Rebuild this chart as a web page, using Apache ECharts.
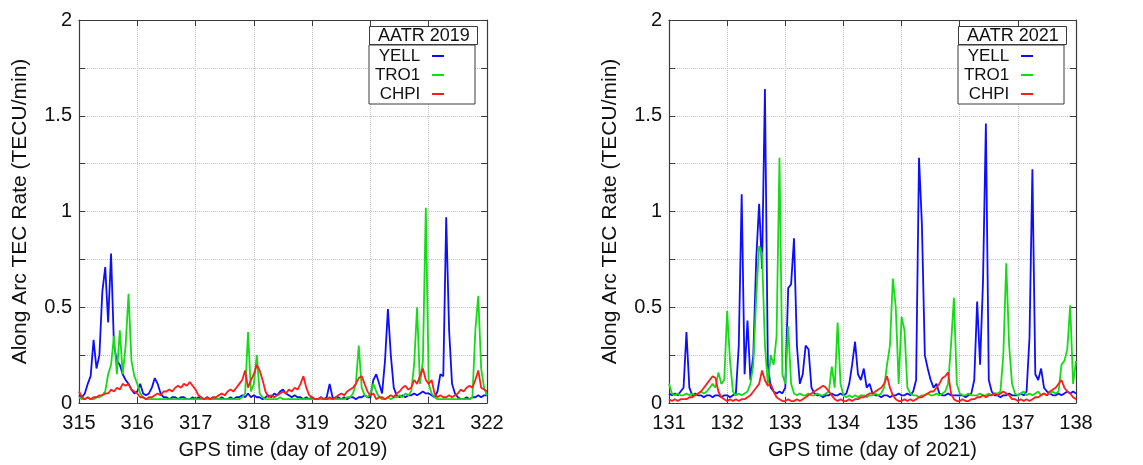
<!DOCTYPE html>
<html>
<head>
<meta charset="utf-8">
<title>AATR 2019 / 2021</title>
<script src="https://cdn.jsdelivr.net/npm/echarts@6/dist/echarts.min.js"></script>
<style>
  html, body { margin: 0; padding: 0; background: #fff; }
  #chart { width: 1143px; height: 465px; }
</style>
</head>
<body>
<div id="chart"></div>
<script>
/* AATR de tres estaciones, dos semanas (2019 y 2021) — muestras cada 0.05 días */

const STATIONS = ["YELL", "TRO1", "CHPI"];
const COLORS = ["#0d0dff", "#14dc14", "#ff1c1c"];
const STEP = 0.05;

const START_2019 = 315;
const END_2019 = 322;
const YELL_2019 = [
  0.04,0.03,0.05,0.10,0.14,0.33,0.18,0.25,0.58,0.71,0.42,0.78,0.30,0.22,0.20,0.15,0.12,0.10,0.07,0.05,
  0.06,0.10,0.05,0.04,0.05,0.08,0.13,0.10,0.05,0.03,0.03,0.02,0.03,0.03,0.02,0.03,0.03,0.02,0.02,0.03,
  0.02,0.03,0.02,0.02,0.03,0.02,0.03,0.02,0.02,0.03,0.02,0.02,0.03,0.02,0.03,0.03,0.04,0.03,0.05,0.03,
  0.04,0.03,0.03,0.02,0.03,0.04,0.03,0.05,0.04,0.06,0.07,0.05,0.04,0.03,0.04,0.03,0.03,0.02,0.03,0.02,
  0.03,0.02,0.02,0.03,0.02,0.03,0.10,0.03,0.02,0.03,0.02,0.03,0.02,0.03,0.03,0.02,0.03,0.03,0.04,0.03,
  0.03,0.12,0.15,0.10,0.05,0.22,0.49,0.25,0.08,0.04,0.03,0.04,0.03,0.04,0.04,0.05,0.04,0.05,0.06,0.05,
  0.05,0.04,0.03,0.06,0.15,0.14,0.97,0.38,0.10,0.05,0.03,0.02,0.02,0.03,0.02,0.03,0.03,0.04,0.03,0.04,
  0.04
];
const TRO1_2019 = [
  0.03,0.02,0.02,0.03,0.02,0.02,0.03,0.03,0.04,0.06,0.15,0.20,0.35,0.15,0.38,0.15,0.30,0.57,0.22,0.14,
  0.10,0.05,0.03,0.02,0.02,0.02,0.02,0.02,0.02,0.02,0.02,0.02,0.02,0.02,0.02,0.02,0.02,0.02,0.02,0.02,
  0.02,0.02,0.02,0.02,0.02,0.02,0.02,0.02,0.02,0.02,0.02,0.02,0.02,0.02,0.02,0.02,0.03,0.05,0.37,0.06,
  0.10,0.25,0.05,0.03,0.02,0.02,0.02,0.02,0.02,0.03,0.02,0.02,0.02,0.02,0.02,0.02,0.02,0.02,0.02,0.02,
  0.02,0.02,0.02,0.02,0.02,0.02,0.02,0.02,0.02,0.02,0.02,0.02,0.03,0.03,0.05,0.10,0.30,0.08,0.04,0.03,
  0.05,0.10,0.06,0.03,0.02,0.02,0.03,0.02,0.03,0.03,0.04,0.03,0.05,0.04,0.06,0.20,0.50,0.10,0.22,1.02,
  0.10,0.05,0.03,0.02,0.02,0.02,0.02,0.02,0.02,0.02,0.02,0.02,0.02,0.02,0.02,0.03,0.38,0.56,0.18,0.08,
  0.04
];
const CHPI_2019 = [
  0.06,0.03,0.02,0.03,0.02,0.03,0.03,0.04,0.04,0.05,0.05,0.07,0.06,0.08,0.07,0.10,0.09,0.10,0.07,0.06,
  0.05,0.03,0.03,0.02,0.03,0.03,0.04,0.05,0.04,0.06,0.06,0.07,0.06,0.08,0.09,0.08,0.10,0.09,0.11,0.09,
  0.07,0.04,0.03,0.02,0.03,0.02,0.03,0.03,0.04,0.05,0.04,0.06,0.07,0.06,0.08,0.10,0.12,0.17,0.08,0.12,
  0.15,0.20,0.17,0.12,0.06,0.03,0.04,0.03,0.04,0.05,0.06,0.05,0.07,0.06,0.08,0.07,0.10,0.14,0.08,0.04,
  0.03,0.02,0.02,0.03,0.02,0.02,0.03,0.02,0.03,0.04,0.05,0.04,0.06,0.07,0.08,0.10,0.13,0.14,0.10,0.06,
  0.04,0.05,0.02,0.03,0.03,0.02,0.03,0.04,0.03,0.05,0.06,0.08,0.09,0.07,0.08,0.12,0.10,0.14,0.18,0.12,
  0.10,0.12,0.05,0.03,0.04,0.03,0.03,0.04,0.03,0.04,0.05,0.07,0.06,0.08,0.09,0.08,0.12,0.17,0.08,0.07,
  0.06
];

const START_2021 = 131;
const END_2021 = 138;
const YELL_2021 = [
  0.05,0.04,0.05,0.04,0.06,0.08,0.37,0.08,0.04,0.05,0.04,0.04,0.03,0.04,0.04,0.03,0.04,0.04,0.03,0.04,
  0.04,0.03,0.04,0.05,0.30,1.09,0.15,0.43,0.12,0.25,0.75,1.04,0.70,1.64,0.20,0.08,0.06,0.05,0.06,0.05,
  0.08,0.60,0.62,0.86,0.30,0.10,0.15,0.30,0.28,0.08,0.05,0.04,0.04,0.03,0.04,0.04,0.05,0.04,0.04,0.05,
  0.04,0.05,0.10,0.20,0.32,0.15,0.12,0.18,0.08,0.10,0.05,0.04,0.04,0.03,0.04,0.04,0.03,0.04,0.04,0.05,
  0.04,0.04,0.05,0.04,0.06,0.12,1.28,0.93,0.25,0.18,0.12,0.08,0.10,0.05,0.04,0.04,0.05,0.04,0.04,0.04,
  0.04,0.04,0.03,0.04,0.05,0.12,0.53,0.20,0.63,1.46,0.12,0.06,0.04,0.04,0.03,0.04,0.04,0.05,0.04,0.04,
  0.04,0.05,0.04,0.06,0.34,1.22,0.15,0.12,0.18,0.08,0.06,0.05,0.04,0.04,0.05,0.04,0.05,0.06,0.05,0.06,
  0.05
];
const TRO1_2021 = [
  0.10,0.05,0.04,0.05,0.04,0.04,0.05,0.04,0.05,0.04,0.05,0.06,0.05,0.06,0.08,0.10,0.08,0.16,0.10,0.12,
  0.48,0.22,0.06,0.04,0.05,0.04,0.05,0.06,0.10,0.20,0.55,0.82,0.78,0.30,0.10,0.25,0.20,0.35,1.28,0.15,
  0.10,0.40,0.10,0.05,0.04,0.05,0.04,0.04,0.05,0.04,0.04,0.05,0.04,0.04,0.05,0.06,0.19,0.08,0.42,0.10,
  0.04,0.03,0.04,0.03,0.04,0.03,0.04,0.04,0.03,0.04,0.04,0.05,0.04,0.05,0.08,0.20,0.30,0.65,0.50,0.10,
  0.45,0.38,0.08,0.05,0.04,0.04,0.03,0.04,0.04,0.05,0.04,0.04,0.05,0.04,0.05,0.06,0.10,0.30,0.55,0.10,
  0.05,0.04,0.04,0.05,0.04,0.04,0.04,0.05,0.04,0.04,0.05,0.04,0.05,0.05,0.06,0.25,0.73,0.30,0.10,0.05,
  0.04,0.05,0.06,0.04,0.05,0.04,0.05,0.06,0.04,0.05,0.04,0.05,0.06,0.05,0.06,0.20,0.22,0.28,0.51,0.10,
  0.22
];
const CHPI_2021 = [
  0.02,0.01,0.02,0.01,0.02,0.02,0.02,0.03,0.03,0.04,0.05,0.06,0.08,0.10,0.12,0.14,0.13,0.06,0.03,0.02,
  0.01,0.02,0.01,0.02,0.01,0.02,0.02,0.03,0.04,0.06,0.08,0.10,0.17,0.12,0.09,0.10,0.06,0.03,0.02,0.01,
  0.01,0.02,0.01,0.01,0.02,0.01,0.02,0.03,0.04,0.05,0.06,0.07,0.08,0.09,0.08,0.06,0.04,0.02,0.01,0.02,
  0.01,0.01,0.02,0.01,0.02,0.02,0.03,0.03,0.04,0.05,0.05,0.06,0.07,0.08,0.10,0.14,0.08,0.04,0.02,0.01,
  0.01,0.02,0.01,0.02,0.01,0.02,0.03,0.03,0.04,0.05,0.06,0.06,0.08,0.10,0.13,0.14,0.16,0.05,0.02,0.01,
  0.01,0.02,0.01,0.01,0.02,0.02,0.03,0.03,0.04,0.03,0.04,0.04,0.05,0.04,0.05,0.06,0.05,0.04,0.02,0.02,
  0.01,0.02,0.01,0.02,0.01,0.02,0.03,0.03,0.04,0.05,0.04,0.06,0.07,0.08,0.10,0.12,0.08,0.06,0.05,0.03,
  0.02
];

const PANELS = [
  { title: "AATR 2019", year: "2019", start: START_2019, end: END_2019, values: [YELL_2019, TRO1_2019, CHPI_2019] },
  { title: "AATR 2021", year: "2021", start: START_2021, end: END_2021, values: [YELL_2021, TRO1_2021, CHPI_2021] },
];

const FONT = "Liberation Sans";
const INK = "#111";
const FRAME = "#3a3a3a";

const GRIDS = [
  { left: 79, top: 20, width: 408, height: 385 },
  { left: 669, top: 20, width: 407, height: 385 },
];

function toXY(values, start) {
  return values.map((v, i) => [start + i * STEP, v]);
}

function isHalf(v) {
  return Math.abs(v * 2 - Math.round(v * 2)) < 1e-9;
}

const chart = echarts.init(document.getElementById("chart"), null, { renderer: "canvas" });

const option = {
  animation: false,
  backgroundColor: "#fff",
  textStyle: { fontFamily: FONT, color: INK },
  title: [],
  legend: [],
  grid: GRIDS.map(g => Object.assign({ show: false }, g)),
  xAxis: [],
  yAxis: [],
  series: [],
};

PANELS.forEach((p, k) => {
  const g = GRIDS[k];
  const titleLeft = g.left + g.width - 118;

  // caja del título de la leyenda
  option.title.push({
    text: p.title,
    left: titleLeft,
    top: 26,
    padding: [1, 8, 0, 9],
    borderColor: FRAME,
    borderWidth: 1,
    backgroundColor: "#fff",
    textStyle: { fontFamily: FONT, fontSize: 18, fontWeight: "normal", color: INK, lineHeight: 18 },
  });

  option.legend.push({
    data: STATIONS.map(s => s + " "),
    orient: "vertical",
    left: titleLeft,
    top: 45,
    align: "right",
    padding: [2, 31, 1, 0],
    itemGap: 1,
    itemWidth: 12,
    itemHeight: 2,
    icon: "rect",
    borderColor: FRAME,
    borderWidth: 1,
    backgroundColor: "#fff",
    selectedMode: false,
    textStyle: { fontFamily: FONT, fontSize: 17, color: INK, width: 52, align: "right", lineHeight: 18, padding: [0, 2, 0, 4] },
  });

  const axisBase = {
    gridIndex: k,
    axisLine: { show: true, onZero: false, lineStyle: { color: FRAME, width: 1.2 } },
    axisTick: { show: true, inside: true, length: 6, lineStyle: { color: FRAME } },
  };

  option.xAxis.push(Object.assign({}, axisBase, {
    type: "value", position: "bottom", min: p.start, max: p.end, interval: 1,
    name: "GPS time (day of " + p.year + ")", nameLocation: "middle", nameGap: 37,
    nameTextStyle: { fontFamily: FONT, fontSize: 20, color: INK },
    axisLabel: { fontFamily: FONT, fontSize: 20, color: INK, margin: 10 },
    splitLine: { show: true, lineStyle: { color: "#c4c4c4", type: "dotted", width: 1 } },
  }));
  option.xAxis.push(Object.assign({}, axisBase, {
    type: "value", position: "top", min: p.start, max: p.end, interval: 1,
    axisLabel: { show: false }, splitLine: { show: false },
  }));

  option.yAxis.push(Object.assign({}, axisBase, {
    type: "value", position: "left", min: 0, max: 2, interval: 0.25,
    name: "Along Arc TEC Rate (TECU/min)", nameLocation: "middle", nameGap: 48,
    nameTextStyle: { fontFamily: FONT, fontSize: 21, color: INK },
    axisLabel: { fontFamily: FONT, fontSize: 20, color: INK, margin: 7, formatter: v => (isHalf(v) ? String(v) : "") },
    splitLine: { show: true, lineStyle: { color: "#c4c4c4", type: "dotted", width: 1 } },
  }));
  option.yAxis.push(Object.assign({}, axisBase, {
    type: "value", position: "right", min: 0, max: 2, interval: 0.25,
    axisLabel: { show: false }, splitLine: { show: false },
  }));

  STATIONS.forEach((s, i) => {
    option.series.push({
      name: s + " ",
      type: "line",
      xAxisIndex: 2 * k,
      yAxisIndex: 2 * k,
      data: toXY(p.values[i], p.start),
      showSymbol: false,
      symbol: "none",
      lineStyle: { color: COLORS[i], width: 1.8 },
      itemStyle: { color: COLORS[i] },
      z: 2 + i,
    });
  });
});

chart.setOption(option);
</script>
</body>
</html>
